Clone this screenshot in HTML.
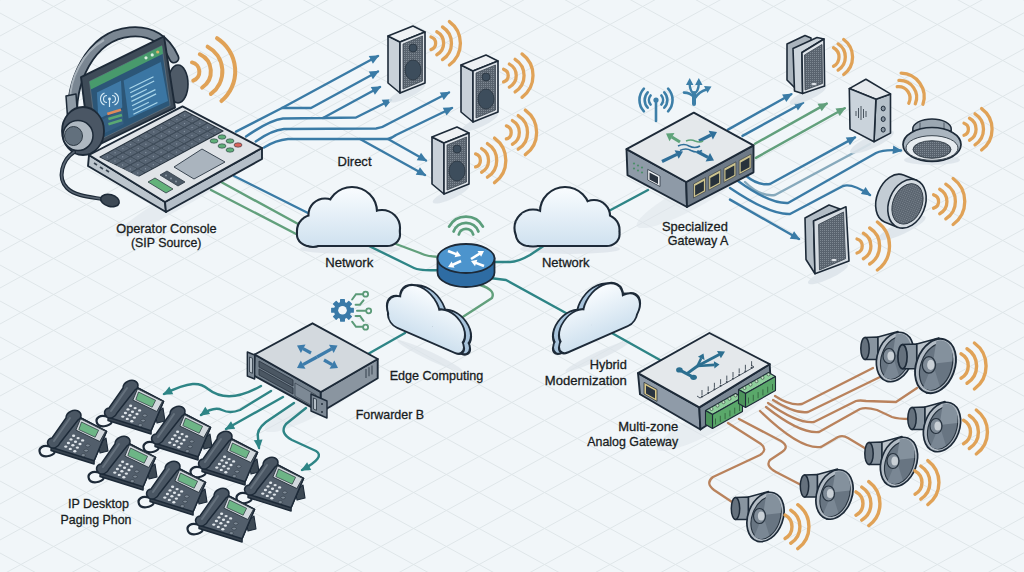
<!DOCTYPE html><html><head><meta charset="utf-8"><style>html,body{margin:0;padding:0;background:#f1f6f9;overflow:hidden}svg{display:block}text{font-family:"Liberation Sans",sans-serif;fill:#181c21;stroke:#181c21;stroke-width:0.3px}</style></head><body>
<svg width="1024" height="572" viewBox="0 0 1024 572">
<defs>
<marker id="ah_3a7ba6" viewBox="0 0 10 10" refX="8.5" refY="5" markerWidth="4.4" markerHeight="4.0" orient="auto"><path d="M0,0.5 L10,5 L0,9.5 z" fill="#3a7ba6"/></marker>
<marker id="ah_62a07c" viewBox="0 0 10 10" refX="8.5" refY="5" markerWidth="4.4" markerHeight="4.0" orient="auto"><path d="M0,0.5 L10,5 L0,9.5 z" fill="#62a07c"/></marker>
<marker id="ah_2e8586" viewBox="0 0 10 10" refX="8.5" refY="5" markerWidth="4.4" markerHeight="4.0" orient="auto"><path d="M0,0.5 L10,5 L0,9.5 z" fill="#2e8586"/></marker>
<pattern id="grille" width="2" height="2" patternUnits="userSpaceOnUse"><rect width="2" height="2" fill="#59636e"/><rect width="1" height="1" fill="#7e8892"/></pattern>
<g id="spk"><polygon points="0.0,11.0 12.0,17.0 12.0,68.0 0.0,58.0" fill="#c9d1d9" stroke="#1d2a38" stroke-width="1.6" stroke-linejoin="round" /><polygon points="0.0,11.0 25.0,1.0 37.0,7.0 12.0,17.0" fill="#eef1f4" stroke="#1d2a38" stroke-width="1.6" stroke-linejoin="round" /><polygon points="12.0,17.0 37.0,7.0 37.0,58.0 12.0,68.0" fill="#dfe4e9" stroke="#1d2a38" stroke-width="1.6" stroke-linejoin="round" /><polygon points="15.0,19.0 34.5,11.0 34.5,56.0 15.0,64.0" fill="url(#grille)" stroke="#3a4550" stroke-width="0.8" stroke-linejoin="round" /><circle cx="25" cy="23" r="4" fill="#3d4d5c" stroke="#2a3540" stroke-width="0.8"/><ellipse cx="25" cy="45" rx="8" ry="10" fill="#3d4d5c" stroke="#2a3540" stroke-width="0.8"/></g>
<g id="phone"><polygon points="59.0,34.0 67.0,28.0 69.0,41.0 61.0,43.0" fill="#3c4853" stroke="#1d2a38" stroke-width="1.1" stroke-linejoin="round" /><polygon points="12.0,37.2 39.2,6.5 67.6,21.3 55.1,50.8 55.1,54.0 12.0,40.5" fill="#38434f" stroke="#1d2a38" stroke-width="1.4" stroke-linejoin="round" /><polygon points="12.0,37.2 39.2,6.5 67.6,21.3 55.1,50.8" fill="#525e6b" stroke="#1d2a38" stroke-width="1.5" stroke-linejoin="round" /><polygon points="41.5,8.8 66.5,21.3 60.8,31.5 36.9,20.1" fill="#d3d9de" stroke="#26313b" stroke-width="0.9" stroke-linejoin="round" /><polygon points="42.5,12.0 59.6,20.3 56.2,27.2 39.8,19.6" fill="#6db586" stroke="#26313b" stroke-width="0.7" stroke-linejoin="round" /><ellipse cx="34.6" cy="25.8" rx="1.6" ry="1.2" fill="#dfe5ea"/><ellipse cx="39.1" cy="28.1" rx="1.6" ry="1.2" fill="#dfe5ea"/><ellipse cx="43.6" cy="30.4" rx="1.6" ry="1.2" fill="#dfe5ea"/><ellipse cx="32.0" cy="29.4" rx="1.6" ry="1.2" fill="#dfe5ea"/><ellipse cx="36.5" cy="31.7" rx="1.6" ry="1.2" fill="#dfe5ea"/><ellipse cx="41.0" cy="34.0" rx="1.6" ry="1.2" fill="#dfe5ea"/><ellipse cx="29.4" cy="33.0" rx="1.6" ry="1.2" fill="#dfe5ea"/><ellipse cx="33.9" cy="35.3" rx="1.6" ry="1.2" fill="#dfe5ea"/><ellipse cx="38.4" cy="37.6" rx="1.6" ry="1.2" fill="#dfe5ea"/><ellipse cx="26.8" cy="36.6" rx="1.6" ry="1.2" fill="#dfe5ea"/><ellipse cx="31.3" cy="38.9" rx="1.6" ry="1.2" fill="#dfe5ea"/><ellipse cx="35.8" cy="41.2" rx="1.6" ry="1.2" fill="#dfe5ea"/><ellipse cx="48.8" cy="35.5" rx="2.2" ry="1.4" fill="#7f8b97" stroke="#26313b" stroke-width="0.5"/><ellipse cx="47.1" cy="40.6" rx="2.2" ry="1.4" fill="#7f8b97" stroke="#26313b" stroke-width="0.5"/><ellipse cx="44.3" cy="45.1" rx="2.2" ry="1.4" fill="#7f8b97" stroke="#26313b" stroke-width="0.5"/><path d="M12,37 C4,34 -1,38 1,43 C3,48 13,47 16,42" fill="none" stroke="#1d2a38" stroke-width="2.2"/><path d="M11,37 C7,34 8,29 13,28 L27,8 C27,2 35,-1 39,1 C43,3 43,8 39,10 L21,33 C19,38 14,39 11,37 z" fill="#4a5663" stroke="#1d2a38" stroke-width="1.5" stroke-linejoin="round"/><path d="M15,31 L31,8" stroke="#65717d" stroke-width="2" stroke-linecap="round"/></g>
<g id="horn"><path d="M-30,-19.5 L-17,-20 L-17,2.5 L-30,2.5 z" fill="#8995a0" stroke="#1d2a38" stroke-width="1.5" stroke-linejoin="round"/><ellipse cx="-30" cy="-8.5" rx="4.2" ry="11" fill="#65717d" stroke="#1d2a38" stroke-width="1.5"/><path d="M-17,-20 L3,-25.5 L6,20 L-8,24.5 L-17,2.5 z" fill="#bcc4cb" stroke="#1d2a38" stroke-width="1.5" stroke-linejoin="round"/><ellipse cx="0" cy="0" rx="17.5" ry="25.5" transform="rotate(20)" fill="#b3bcc5" stroke="#1d2a38" stroke-width="1.7"/><ellipse cx="0.8" cy="0.6" rx="14" ry="21.8" transform="rotate(20)" fill="#687582" stroke="#26323e" stroke-width="1.1"/><path d="M-3,-1 L-7,-21.5 A14,21.8 0 0 1 13,-9 z" fill="#84919d" transform="rotate(20)"/><path d="M-3,-1 L10,16 A14,21.8 0 0 1 -4,22 z" fill="#7a8794" transform="rotate(20)"/><ellipse cx="-6" cy="-1" rx="6" ry="7.5" fill="#7e8a96" stroke="#26323e" stroke-width="1.2"/><ellipse cx="-4.3" cy="-1" rx="3.3" ry="4.6" fill="#c9d0d6"/></g>
</defs>
<rect width="1024" height="572" fill="#f1f6f9"/>
<g stroke="#dfe6e9" stroke-width="1" fill="none"><line x1="0" y1="-1247" x2="1024" y2="-683.8"/><line x1="0" y1="-1188" x2="1024" y2="-1751.2"/><line x1="0" y1="-1211" x2="1024" y2="-647.8"/><line x1="0" y1="-1152" x2="1024" y2="-1715.2"/><line x1="0" y1="-1175" x2="1024" y2="-611.8"/><line x1="0" y1="-1116" x2="1024" y2="-1679.2"/><line x1="0" y1="-1139" x2="1024" y2="-575.8"/><line x1="0" y1="-1080" x2="1024" y2="-1643.2"/><line x1="0" y1="-1103" x2="1024" y2="-539.8"/><line x1="0" y1="-1044" x2="1024" y2="-1607.2"/><line x1="0" y1="-1067" x2="1024" y2="-503.8"/><line x1="0" y1="-1008" x2="1024" y2="-1571.2"/><line x1="0" y1="-1031" x2="1024" y2="-467.8"/><line x1="0" y1="-972" x2="1024" y2="-1535.2"/><line x1="0" y1="-995" x2="1024" y2="-431.8"/><line x1="0" y1="-936" x2="1024" y2="-1499.2"/><line x1="0" y1="-959" x2="1024" y2="-395.8"/><line x1="0" y1="-900" x2="1024" y2="-1463.2"/><line x1="0" y1="-923" x2="1024" y2="-359.8"/><line x1="0" y1="-864" x2="1024" y2="-1427.2"/><line x1="0" y1="-887" x2="1024" y2="-323.8"/><line x1="0" y1="-828" x2="1024" y2="-1391.2"/><line x1="0" y1="-851" x2="1024" y2="-287.8"/><line x1="0" y1="-792" x2="1024" y2="-1355.2"/><line x1="0" y1="-815" x2="1024" y2="-251.8"/><line x1="0" y1="-756" x2="1024" y2="-1319.2"/><line x1="0" y1="-779" x2="1024" y2="-215.8"/><line x1="0" y1="-720" x2="1024" y2="-1283.2"/><line x1="0" y1="-743" x2="1024" y2="-179.8"/><line x1="0" y1="-684" x2="1024" y2="-1247.2"/><line x1="0" y1="-707" x2="1024" y2="-143.8"/><line x1="0" y1="-648" x2="1024" y2="-1211.2"/><line x1="0" y1="-671" x2="1024" y2="-107.8"/><line x1="0" y1="-612" x2="1024" y2="-1175.2"/><line x1="0" y1="-635" x2="1024" y2="-71.8"/><line x1="0" y1="-576" x2="1024" y2="-1139.2"/><line x1="0" y1="-599" x2="1024" y2="-35.8"/><line x1="0" y1="-540" x2="1024" y2="-1103.2"/><line x1="0" y1="-563" x2="1024" y2="0.2"/><line x1="0" y1="-504" x2="1024" y2="-1067.2"/><line x1="0" y1="-527" x2="1024" y2="36.2"/><line x1="0" y1="-468" x2="1024" y2="-1031.2"/><line x1="0" y1="-491" x2="1024" y2="72.2"/><line x1="0" y1="-432" x2="1024" y2="-995.2"/><line x1="0" y1="-455" x2="1024" y2="108.2"/><line x1="0" y1="-396" x2="1024" y2="-959.2"/><line x1="0" y1="-419" x2="1024" y2="144.2"/><line x1="0" y1="-360" x2="1024" y2="-923.2"/><line x1="0" y1="-383" x2="1024" y2="180.2"/><line x1="0" y1="-324" x2="1024" y2="-887.2"/><line x1="0" y1="-347" x2="1024" y2="216.2"/><line x1="0" y1="-288" x2="1024" y2="-851.2"/><line x1="0" y1="-311" x2="1024" y2="252.2"/><line x1="0" y1="-252" x2="1024" y2="-815.2"/><line x1="0" y1="-275" x2="1024" y2="288.2"/><line x1="0" y1="-216" x2="1024" y2="-779.2"/><line x1="0" y1="-239" x2="1024" y2="324.2"/><line x1="0" y1="-180" x2="1024" y2="-743.2"/><line x1="0" y1="-203" x2="1024" y2="360.2"/><line x1="0" y1="-144" x2="1024" y2="-707.2"/><line x1="0" y1="-167" x2="1024" y2="396.2"/><line x1="0" y1="-108" x2="1024" y2="-671.2"/><line x1="0" y1="-131" x2="1024" y2="432.2"/><line x1="0" y1="-72" x2="1024" y2="-635.2"/><line x1="0" y1="-95" x2="1024" y2="468.2"/><line x1="0" y1="-36" x2="1024" y2="-599.2"/><line x1="0" y1="-59" x2="1024" y2="504.2"/><line x1="0" y1="0" x2="1024" y2="-563.2"/><line x1="0" y1="-23" x2="1024" y2="540.2"/><line x1="0" y1="36" x2="1024" y2="-527.2"/><line x1="0" y1="13" x2="1024" y2="576.2"/><line x1="0" y1="72" x2="1024" y2="-491.2"/><line x1="0" y1="49" x2="1024" y2="612.2"/><line x1="0" y1="108" x2="1024" y2="-455.2"/><line x1="0" y1="85" x2="1024" y2="648.2"/><line x1="0" y1="144" x2="1024" y2="-419.2"/><line x1="0" y1="121" x2="1024" y2="684.2"/><line x1="0" y1="180" x2="1024" y2="-383.2"/><line x1="0" y1="157" x2="1024" y2="720.2"/><line x1="0" y1="216" x2="1024" y2="-347.2"/><line x1="0" y1="193" x2="1024" y2="756.2"/><line x1="0" y1="252" x2="1024" y2="-311.2"/><line x1="0" y1="229" x2="1024" y2="792.2"/><line x1="0" y1="288" x2="1024" y2="-275.2"/><line x1="0" y1="265" x2="1024" y2="828.2"/><line x1="0" y1="324" x2="1024" y2="-239.2"/><line x1="0" y1="301" x2="1024" y2="864.2"/><line x1="0" y1="360" x2="1024" y2="-203.2"/><line x1="0" y1="337" x2="1024" y2="900.2"/><line x1="0" y1="396" x2="1024" y2="-167.2"/><line x1="0" y1="373" x2="1024" y2="936.2"/><line x1="0" y1="432" x2="1024" y2="-131.2"/><line x1="0" y1="409" x2="1024" y2="972.2"/><line x1="0" y1="468" x2="1024" y2="-95.2"/><line x1="0" y1="445" x2="1024" y2="1008.2"/><line x1="0" y1="504" x2="1024" y2="-59.2"/><line x1="0" y1="481" x2="1024" y2="1044.2"/><line x1="0" y1="540" x2="1024" y2="-23.2"/><line x1="0" y1="517" x2="1024" y2="1080.2"/><line x1="0" y1="576" x2="1024" y2="12.8"/><line x1="0" y1="553" x2="1024" y2="1116.2"/><line x1="0" y1="612" x2="1024" y2="48.8"/><line x1="0" y1="589" x2="1024" y2="1152.2"/><line x1="0" y1="648" x2="1024" y2="84.8"/><line x1="0" y1="625" x2="1024" y2="1188.2"/><line x1="0" y1="684" x2="1024" y2="120.8"/><line x1="0" y1="661" x2="1024" y2="1224.2"/><line x1="0" y1="720" x2="1024" y2="156.8"/><line x1="0" y1="697" x2="1024" y2="1260.2"/><line x1="0" y1="756" x2="1024" y2="192.8"/><line x1="0" y1="733" x2="1024" y2="1296.2"/><line x1="0" y1="792" x2="1024" y2="228.8"/><line x1="0" y1="769" x2="1024" y2="1332.2"/><line x1="0" y1="828" x2="1024" y2="264.8"/><line x1="0" y1="805" x2="1024" y2="1368.2"/><line x1="0" y1="864" x2="1024" y2="300.8"/><line x1="0" y1="841" x2="1024" y2="1404.2"/><line x1="0" y1="900" x2="1024" y2="336.8"/><line x1="0" y1="877" x2="1024" y2="1440.2"/><line x1="0" y1="936" x2="1024" y2="372.8"/><line x1="0" y1="913" x2="1024" y2="1476.2"/><line x1="0" y1="972" x2="1024" y2="408.8"/><line x1="0" y1="949" x2="1024" y2="1512.2"/><line x1="0" y1="1008" x2="1024" y2="444.8"/><line x1="0" y1="985" x2="1024" y2="1548.2"/><line x1="0" y1="1044" x2="1024" y2="480.8"/><line x1="0" y1="1021" x2="1024" y2="1584.2"/><line x1="0" y1="1080" x2="1024" y2="516.8"/><line x1="0" y1="1057" x2="1024" y2="1620.2"/><line x1="0" y1="1116" x2="1024" y2="552.8"/><line x1="0" y1="1093" x2="1024" y2="1656.2"/><line x1="0" y1="1152" x2="1024" y2="588.8"/><line x1="0" y1="1129" x2="1024" y2="1692.2"/><line x1="0" y1="1188" x2="1024" y2="624.8"/><line x1="0" y1="1165" x2="1024" y2="1728.2"/><line x1="0" y1="1224" x2="1024" y2="660.8"/><line x1="0" y1="1201" x2="1024" y2="1764.2"/><line x1="0" y1="1260" x2="1024" y2="696.8"/><line x1="0" y1="1237" x2="1024" y2="1800.2"/><line x1="0" y1="1296" x2="1024" y2="732.8"/><line x1="0" y1="1273" x2="1024" y2="1836.2"/><line x1="0" y1="1332" x2="1024" y2="768.8"/><line x1="0" y1="1309" x2="1024" y2="1872.2"/><line x1="0" y1="1368" x2="1024" y2="804.8"/><line x1="0" y1="1345" x2="1024" y2="1908.2"/><line x1="0" y1="1404" x2="1024" y2="840.8"/><line x1="0" y1="1381" x2="1024" y2="1944.2"/><line x1="0" y1="1440" x2="1024" y2="876.8"/><line x1="0" y1="1417" x2="1024" y2="1980.2"/><line x1="0" y1="1476" x2="1024" y2="912.8"/><line x1="0" y1="1453" x2="1024" y2="2016.2"/><line x1="0" y1="1512" x2="1024" y2="948.8"/><line x1="0" y1="1489" x2="1024" y2="2052.2"/><line x1="0" y1="1548" x2="1024" y2="984.8"/><line x1="0" y1="1525" x2="1024" y2="2088.2"/><line x1="0" y1="1584" x2="1024" y2="1020.8"/><line x1="0" y1="1561" x2="1024" y2="2124.2"/><line x1="0" y1="1620" x2="1024" y2="1056.8"/><line x1="0" y1="1597" x2="1024" y2="2160.2"/><line x1="0" y1="1656" x2="1024" y2="1092.8"/><line x1="0" y1="1633" x2="1024" y2="2196.2"/><line x1="0" y1="1692" x2="1024" y2="1128.8"/><line x1="0" y1="1669" x2="1024" y2="2232.2"/><line x1="0" y1="1728" x2="1024" y2="1164.8"/><line x1="0" y1="1705" x2="1024" y2="2268.2"/><line x1="0" y1="1764" x2="1024" y2="1200.8"/><line x1="0" y1="1741" x2="1024" y2="2304.2"/><line x1="0" y1="1800" x2="1024" y2="1236.8"/><line x1="0" y1="1777" x2="1024" y2="2340.2"/><line x1="0" y1="1836" x2="1024" y2="1272.8"/></g>
<ellipse cx="185" cy="196" rx="80" ry="9" transform="rotate(-30 185 196)" fill="#dde4ea" opacity="0.6"/>
<ellipse cx="690" cy="198" rx="60" ry="12" transform="rotate(-28 690 198)" fill="#dde4ea" opacity="0.5"/>
<ellipse cx="318" cy="402" rx="60" ry="12" transform="rotate(-28 318 402)" fill="#dde4ea" opacity="0.5"/>
<ellipse cx="712" cy="420" rx="62" ry="12" transform="rotate(-28 712 420)" fill="#dde4ea" opacity="0.5"/>
<ellipse cx="350" cy="249" rx="50" ry="5" transform="rotate(0 350 249)" fill="#dde4ea" opacity="0.8"/>
<ellipse cx="570" cy="249" rx="50" ry="5" transform="rotate(0 570 249)" fill="#dde4ea" opacity="0.8"/>
<ellipse cx="430" cy="356" rx="36" ry="4" transform="rotate(25 430 356)" fill="#dde4ea" opacity="0.7"/>
<ellipse cx="598" cy="356" rx="36" ry="4" transform="rotate(-25 598 356)" fill="#dde4ea" opacity="0.7"/>
<path d="M236,131.6 L282,108 L378,56" fill="none" stroke="#3a7ba6" stroke-width="2.4" stroke-linecap="round" stroke-linejoin="round" marker-end="url(#ah_3a7ba6)"/><path d="M282,108 L311,108 L378,71.5" fill="none" stroke="#3a7ba6" stroke-width="2.4" stroke-linecap="round" stroke-linejoin="round" marker-end="url(#ah_3a7ba6)"/><path d="M246,136.5 Q270,120 283,118.5 L323,118 L380,87" fill="none" stroke="#3a7ba6" stroke-width="2.4" stroke-linecap="round" stroke-linejoin="round" marker-end="url(#ah_3a7ba6)"/><path d="M323,118 L356,117.5 L391,100" fill="none" stroke="#3a7ba6" stroke-width="2.4" stroke-linecap="round" stroke-linejoin="round" marker-end="url(#ah_3a7ba6)"/><path d="M255.7,141.4 Q272,130 284,129 L376,128.5 Q382,128 388,124 L449,92.5" fill="none" stroke="#3a7ba6" stroke-width="2.4" stroke-linecap="round" stroke-linejoin="round" marker-end="url(#ah_3a7ba6)"/><path d="M264,147.5 Q276,140 288,139 L388,139 Q392,138 396,135 L452,108" fill="none" stroke="#3a7ba6" stroke-width="2.4" stroke-linecap="round" stroke-linejoin="round" marker-end="url(#ah_3a7ba6)"/><path d="M360,139 L425,175" fill="none" stroke="#3a7ba6" stroke-width="2.4" stroke-linecap="round" stroke-linejoin="round" marker-end="url(#ah_3a7ba6)"/><path d="M388,139 L426,160.5" fill="none" stroke="#3a7ba6" stroke-width="2.4" stroke-linecap="round" stroke-linejoin="round" marker-end="url(#ah_3a7ba6)"/><path d="M234,176 L310,214" fill="none" stroke="#3a7ba6" stroke-width="2.4" stroke-linecap="round" stroke-linejoin="round"/><path d="M222,182.5 L300,225" fill="none" stroke="#62a07c" stroke-width="2.4" stroke-linecap="round" stroke-linejoin="round"/><path d="M211,190 L300,236" fill="none" stroke="#62a07c" stroke-width="2.4" stroke-linecap="round" stroke-linejoin="round"/><path d="M380,238 L420,253 Q428,257 440,257" fill="none" stroke="#62a07c" stroke-width="2.4" stroke-linecap="round" stroke-linejoin="round"/><path d="M365,244 L414,268 Q420,271 440,270" fill="none" stroke="#2e8586" stroke-width="2.4" stroke-linecap="round" stroke-linejoin="round"/><path d="M492,262 L510,262 Q518,262 530,255 L545,245" fill="none" stroke="#2e8586" stroke-width="2.4" stroke-linecap="round" stroke-linejoin="round"/><path d="M605,213 L648,190" fill="none" stroke="#2e8586" stroke-width="2.4" stroke-linecap="round" stroke-linejoin="round"/><path d="M490,278 L506,280 L575,318" fill="none" stroke="#2e8586" stroke-width="2.4" stroke-linecap="round" stroke-linejoin="round"/><path d="M610,332 L660,360" fill="none" stroke="#2e8586" stroke-width="2.4" stroke-linecap="round" stroke-linejoin="round"/><path d="M480,285 Q496,290 492,298 L455,322" fill="none" stroke="#62a07c" stroke-width="2.4" stroke-linecap="round" stroke-linejoin="round"/><path d="M405,333 L368,354" fill="none" stroke="#2e8586" stroke-width="2.4" stroke-linecap="round" stroke-linejoin="round"/><path d="M728,129.6 L791.3,94.2" fill="none" stroke="#3a7ba6" stroke-width="2.4" stroke-linecap="round" stroke-linejoin="round" marker-end="url(#ah_3a7ba6)"/><path d="M742.5,135.9 L803,102.8" fill="none" stroke="#3a7ba6" stroke-width="2.4" stroke-linecap="round" stroke-linejoin="round" marker-end="url(#ah_3a7ba6)"/><path d="M755,143.7 L826.7,103.6" fill="none" stroke="#62a07c" stroke-width="2.4" stroke-linecap="round" stroke-linejoin="round" marker-end="url(#ah_62a07c)"/><path d="M755.9,157.9 L844.7,108.3" fill="none" stroke="#62a07c" stroke-width="2.4" stroke-linecap="round" stroke-linejoin="round" marker-end="url(#ah_62a07c)"/><path d="M745,175 Q758,186 770,184 L855,137.4" fill="none" stroke="#3a7ba6" stroke-width="2.4" stroke-linecap="round" stroke-linejoin="round" marker-end="url(#ah_3a7ba6)"/><path d="M745,182 Q760,197 775,195 L870,144" fill="none" stroke="#86a9bc" stroke-width="2.4" stroke-linecap="round" stroke-linejoin="round"/><path d="M738,181 Q770,204 788,203 L876,153 Q884,149 901,150.5" fill="none" stroke="#3a7ba6" stroke-width="2.4" stroke-linecap="round" stroke-linejoin="round" marker-end="url(#ah_3a7ba6)"/><path d="M730,188 Q770,215 790,214 L843,186 Q852,183 870,195" fill="none" stroke="#3a7ba6" stroke-width="2.4" stroke-linecap="round" stroke-linejoin="round" marker-end="url(#ah_3a7ba6)"/><path d="M730,199.6 L799,239" fill="none" stroke="#3a7ba6" stroke-width="2.4" stroke-linecap="round" stroke-linejoin="round" marker-end="url(#ah_3a7ba6)"/><path d="M261,386 C240,398 222,400 208,389 C200,382 190,381 164,394" fill="none" stroke="#2e8586" stroke-width="2.4" stroke-linecap="round" stroke-linejoin="round" marker-end="url(#ah_2e8586)"/><path d="M271,391 L240,410 Q230,414 222,410 Q214,406 201,415" fill="none" stroke="#2e8586" stroke-width="2.4" stroke-linecap="round" stroke-linejoin="round" marker-end="url(#ah_2e8586)"/><path d="M283,397 L226,429" fill="none" stroke="#2e8586" stroke-width="2.4" stroke-linecap="round" stroke-linejoin="round" marker-end="url(#ah_2e8586)"/><path d="M294,403 L266,422 Q256,430 258,438 L259,448" fill="none" stroke="#2e8586" stroke-width="2.4" stroke-linecap="round" stroke-linejoin="round" marker-end="url(#ah_2e8586)"/><path d="M306,408 L286,424 Q279,433 292,440 L316,451 Q326,457 302,470" fill="none" stroke="#2e8586" stroke-width="2.4" stroke-linecap="round" stroke-linejoin="round" marker-end="url(#ah_2e8586)"/><path d="M775,396 Q790,406 802,404 L873,368" fill="none" stroke="#b9825c" stroke-width="2.3" stroke-linecap="round" stroke-linejoin="round"/><path d="M773,400 Q795,414 808,412 L880,377" fill="none" stroke="#b9825c" stroke-width="2.3" stroke-linecap="round" stroke-linejoin="round"/><path d="M768,403 Q798,424 814,422 L856,401 Q860,400 866,401 L896,402 L917,388" fill="none" stroke="#b9825c" stroke-width="2.3" stroke-linecap="round" stroke-linejoin="round"/><path d="M766,407 Q800,434 819,432 L860,409 Q866,407 877,410 L892,417 Q898,419 910,419" fill="none" stroke="#b9825c" stroke-width="2.3" stroke-linecap="round" stroke-linejoin="round"/><path d="M760,411 Q800,450 821,447 L838,437 Q843,435 848,438 L868,450" fill="none" stroke="#b9825c" stroke-width="2.3" stroke-linecap="round" stroke-linejoin="round"/><path d="M739,419 L781,441 Q790,447 782,452 L770,460 Q765,466 776,472 L805,487" fill="none" stroke="#b9825c" stroke-width="2.3" stroke-linecap="round" stroke-linejoin="round"/><path d="M728,423 L761,444 Q768,450 760,455 L713,477 Q705,483 714,490 L738,506" fill="none" stroke="#b9825c" stroke-width="2.3" stroke-linecap="round" stroke-linejoin="round"/>
<linearGradient id="cg1" gradientUnits="userSpaceOnUse" x1="0" y1="190" x2="0" y2="246"><stop offset="0" stop-color="#f7fbfe"/><stop offset="1" stop-color="#cfe1ef"/></linearGradient><g transform=""><g fill="url(#cg1)" stroke="#1d2a38" stroke-width="4.2"><circle cx="313" cy="231" r="15"/><circle cx="325" cy="215" r="15.5"/><circle cx="352" cy="212" r="24"/><circle cx="382" cy="228" r="17"/><rect x="298" y="224" width="101" height="21" rx="12"/></g><g fill="url(#cg1)"><circle cx="313" cy="231" r="15"/><circle cx="325" cy="215" r="15.5"/><circle cx="352" cy="212" r="24"/><circle cx="382" cy="228" r="17"/><rect x="298" y="224" width="101" height="21" rx="12"/></g></g>
<linearGradient id="cg2" gradientUnits="userSpaceOnUse" x1="0" y1="190" x2="0" y2="246"><stop offset="0" stop-color="#f7fbfe"/><stop offset="1" stop-color="#cfe1ef"/></linearGradient><g transform=""><g fill="url(#cg2)" stroke="#1d2a38" stroke-width="4.2"><circle cx="533" cy="228" r="17.5"/><circle cx="565" cy="212" r="24"/><circle cx="594" cy="216" r="15"/><circle cx="604" cy="230" r="14.5"/><rect x="517" y="224" width="101.5" height="21" rx="12"/></g><g fill="url(#cg2)"><circle cx="533" cy="228" r="17.5"/><circle cx="565" cy="212" r="24"/><circle cx="594" cy="216" r="15"/><circle cx="604" cy="230" r="14.5"/><rect x="517" y="224" width="101.5" height="21" rx="12"/></g></g>
<linearGradient id="cg3" gradientUnits="userSpaceOnUse" x1="0" y1="-48" x2="0" y2="0"><stop offset="0" stop-color="#f7fbfe"/><stop offset="1" stop-color="#cfe1ef"/></linearGradient><g transform="matrix(1,0.435,0,1,393,325)"><g transform="translate(6,-2)"><g fill="#a8c4dc" stroke="#1d2a38" stroke-width="4.2"><circle cx="10" cy="-16" r="15"/><circle cx="27" cy="-30" r="19"/><circle cx="55" cy="-21" r="16"/><rect x="-4" y="-16" width="74" height="16" rx="8"/></g><g fill="#a8c4dc"><circle cx="10" cy="-16" r="15"/><circle cx="27" cy="-30" r="19"/><circle cx="55" cy="-21" r="16"/><rect x="-4" y="-16" width="74" height="16" rx="8"/></g></g><g fill="url(#cg3)" stroke="#1d2a38" stroke-width="4.2"><circle cx="10" cy="-16" r="15"/><circle cx="27" cy="-30" r="19"/><circle cx="55" cy="-21" r="16"/><rect x="-4" y="-16" width="74" height="16" rx="8"/></g><g fill="url(#cg3)"><circle cx="10" cy="-16" r="15"/><circle cx="27" cy="-30" r="19"/><circle cx="55" cy="-21" r="16"/><rect x="-4" y="-16" width="74" height="16" rx="8"/></g></g>
<linearGradient id="cg4" gradientUnits="userSpaceOnUse" x1="0" y1="-48" x2="0" y2="0"><stop offset="0" stop-color="#f7fbfe"/><stop offset="1" stop-color="#cfe1ef"/></linearGradient><g transform="matrix(1,-0.44,0,1,562,354)"><g transform="translate(-6,-2)"><g fill="#a8c4dc" stroke="#1d2a38" stroke-width="4.2"><circle cx="14" cy="-20" r="16"/><circle cx="41" cy="-31" r="19"/><circle cx="62" cy="-16" r="15"/><rect x="-2" y="-16" width="76" height="16" rx="8"/></g><g fill="#a8c4dc"><circle cx="14" cy="-20" r="16"/><circle cx="41" cy="-31" r="19"/><circle cx="62" cy="-16" r="15"/><rect x="-2" y="-16" width="76" height="16" rx="8"/></g></g><g fill="url(#cg4)" stroke="#1d2a38" stroke-width="4.2"><circle cx="14" cy="-20" r="16"/><circle cx="41" cy="-31" r="19"/><circle cx="62" cy="-16" r="15"/><rect x="-2" y="-16" width="76" height="16" rx="8"/></g><g fill="url(#cg4)"><circle cx="14" cy="-20" r="16"/><circle cx="41" cy="-31" r="19"/><circle cx="62" cy="-16" r="15"/><rect x="-2" y="-16" width="76" height="16" rx="8"/></g></g>
<path d="M437.5,258.5 L437.5,272.5 A28.5,14.5 0 0 0 494.5,272.5 L494.5,258.5 z" fill="#2e6ca3" stroke="#1d2a38" stroke-width="1.8"/><ellipse cx="466" cy="258.5" rx="28.5" ry="14.5" fill="#4c94cd" stroke="#1d2a38" stroke-width="1.8"/><path d="M448,251 L458.2,254.9" stroke="#fff" stroke-width="2.6"/><polygon points="461,256 454.6,257.2 457.0,250.8" fill="#fff"/><path d="M471,259 L481.4,252.6" stroke="#fff" stroke-width="2.6"/><polygon points="484,251 481.1,256.8 477.5,251.0" fill="#fff"/><path d="M461,261 L450.7,265.7" stroke="#fff" stroke-width="2.6"/><polygon points="448,267 451.6,261.6 454.5,267.8" fill="#fff"/><path d="M484,266 L473.8,262.1" stroke="#fff" stroke-width="2.6"/><polygon points="471,261 477.4,259.8 475.0,266.2" fill="#fff"/>
<g fill="none" stroke="#5b9e7c" stroke-width="2.8" stroke-linecap="round"><path d="M458.8,234.5 A7.4,7.4 0 0 1 473.2,234.5"/><path d="M453.6,231.5 A13.2,13.2 0 0 1 478.4,231.5"/><path d="M449.1,226.6 A19.3,19.3 0 0 1 482.9,226.6"/></g>
<path d="M73,124 C69,82 90,36 130,32 C151,30 166,40 174,58" fill="none" stroke="#1d2a38" stroke-width="11" stroke-linecap="round"/><path d="M73,124 C69,82 90,36 130,32 C151,30 166,40 174,58" fill="none" stroke="#7a8692" stroke-width="7.5" stroke-linecap="round"/><path d="M70,100 C70,80 82,52 104,40" fill="none" stroke="#a7b1ba" stroke-width="2"/><polygon points="66.0,96.0 76.0,94.0 78.0,122.0 68.0,124.0" fill="#8e9aa5" stroke="#1d2a38" stroke-width="1.5" stroke-linejoin="round" /><ellipse cx="178" cy="84" rx="10" ry="19" fill="#4e5a67" stroke="#1d2a38" stroke-width="1.6"/><polygon points="81.0,77.2 164.0,36.3 175.0,107.6 90.0,149.0" fill="#3e4b58" stroke="#1d2a38" stroke-width="1.9" stroke-linejoin="round" /><polygon points="89.5,81.4 161.9,45.7 170.2,105.5 96.9,141.1" fill="#2c5677" stroke="#5b6c7b" stroke-width="0.9" stroke-linejoin="round" /><polygon points="89.5,81.4 161.9,45.7 163.0,53.8 90.8,89.6" fill="#489a6c" stroke="none" stroke-width="0" stroke-linejoin="round" /><circle cx="146" cy="57.8" r="1.6" fill="#dcefe2"/><circle cx="152.2" cy="54.9" r="1.6" fill="#dcefe2"/><circle cx="157.7" cy="52" r="1.6" fill="#d9b46a"/><polygon points="96.9,92.5 121.0,80.8 122.3,107.5 98.4,119.0" fill="#3f79a6" stroke="none" stroke-width="0" stroke-linejoin="round" /><polygon points="98.6,121.5 122.5,109.8 123.6,124.0 99.6,135.5" fill="#355f82" stroke="none" stroke-width="0" stroke-linejoin="round" /><polygon points="123.6,80.5 160.8,62.0 168.0,101.0 128.6,118.5" fill="#3b76a3" stroke="none" stroke-width="0" stroke-linejoin="round" /><path d="M129.5,88.5 L153.5,76.7" stroke="#a9d6ea" stroke-width="1.2"/><path d="M130.2,92.8 L154.2,81.0" stroke="#a9d6ea" stroke-width="1.2"/><path d="M130.8,97.1 L146.8,89.3" stroke="#a9d6ea" stroke-width="1.2"/><path d="M131.4,101.4 L155.4,89.6" stroke="#a9d6ea" stroke-width="1.2"/><path d="M132.1,105.7 L156.1,93.9" stroke="#a9d6ea" stroke-width="1.2"/><path d="M132.8,110.0 L148.8,102.2" stroke="#a9d6ea" stroke-width="1.2"/><path d="M133.4,114.3 L157.4,102.5" stroke="#a9d6ea" stroke-width="1.2"/><path d="M107.3,113.9 L121,109.7" stroke-width="2.6" stroke="#e08a5a"/><path d="M108.4,119.1 L122,114.9 M108.4,124.3 L122,120.1" stroke-width="2.6" stroke="#5aa873"/><g fill="none" stroke="#d5eaf5" stroke-width="1.1"><path d="M107,95.5 a3.5,3.5 0 0 0 0,7"/><path d="M112,95.5 a3.5,3.5 0 0 1 0,7"/><path d="M104.5,93 a6.5,6.5 0 0 0 0,12"/><path d="M114.5,93 a6.5,6.5 0 0 1 0,12"/></g><circle cx="109.5" cy="99" r="1.4" fill="#d5eaf5"/><path d="M109.5,99 L109.5,107" stroke="#d5eaf5" stroke-width="1.2"/><polygon points="89.0,155.0 165.0,202.0 166.0,212.0 88.0,166.0" fill="#bcc5cd" stroke="#1d2a38" stroke-width="1.9" stroke-linejoin="round" /><polygon points="165.0,202.0 262.0,148.0 262.0,159.0 166.0,212.0" fill="#b4bec8" stroke="#1d2a38" stroke-width="1.9" stroke-linejoin="round" /><polygon points="89.0,155.0 182.5,106.4 262.0,148.0 165.0,202.0" fill="#e0e4e8" stroke="#1d2a38" stroke-width="1.9" stroke-linejoin="round" /><path d="M94,163 l3,2 M100,167 l3,2 M106,170 l3,2" stroke="#3a4652" stroke-width="1.6"/><polygon points="100.0,157.0 185.0,111.0 223.0,131.0 139.0,176.0" fill="#3f4c5a" stroke="#2a3642" stroke-width="1.2" stroke-linejoin="round" /><polygon points="101.6,157.2 107.8,153.9 113.2,156.7 107.0,160.0" fill="#566372" stroke="#6f7c89" stroke-width="0.4"/><circle cx="107.4" cy="157.0" r="0.7" fill="#8693a0"/><polygon points="109.3,153.0 115.5,149.7 120.9,152.5 114.7,155.8" fill="#566372" stroke="#6f7c89" stroke-width="0.4"/><circle cx="115.1" cy="152.8" r="0.7" fill="#8693a0"/><polygon points="117.1,148.8 123.3,145.5 128.7,148.3 122.5,151.6" fill="#566372" stroke="#6f7c89" stroke-width="0.4"/><circle cx="122.9" cy="148.6" r="0.7" fill="#8693a0"/><polygon points="124.8,144.7 131.0,141.4 136.4,144.2 130.2,147.5" fill="#566372" stroke="#6f7c89" stroke-width="0.4"/><circle cx="130.6" cy="144.5" r="0.7" fill="#8693a0"/><polygon points="132.5,140.5 138.7,137.2 144.1,140.0 137.9,143.3" fill="#566372" stroke="#6f7c89" stroke-width="0.4"/><circle cx="138.3" cy="140.3" r="0.7" fill="#8693a0"/><polygon points="140.2,136.3 146.4,133.0 151.8,135.8 145.6,139.1" fill="#566372" stroke="#6f7c89" stroke-width="0.4"/><circle cx="146.0" cy="136.1" r="0.7" fill="#8693a0"/><polygon points="148.0,132.1 154.2,128.8 159.6,131.6 153.4,134.9" fill="#566372" stroke="#6f7c89" stroke-width="0.4"/><circle cx="153.8" cy="131.9" r="0.7" fill="#8693a0"/><polygon points="155.7,127.9 161.9,124.6 167.3,127.4 161.1,130.7" fill="#566372" stroke="#6f7c89" stroke-width="0.4"/><circle cx="161.5" cy="127.7" r="0.7" fill="#8693a0"/><polygon points="163.4,123.7 169.6,120.4 175.0,123.2 168.8,126.5" fill="#566372" stroke="#6f7c89" stroke-width="0.4"/><circle cx="169.2" cy="123.5" r="0.7" fill="#8693a0"/><polygon points="171.1,119.6 177.3,116.3 182.7,119.1 176.5,122.4" fill="#566372" stroke="#6f7c89" stroke-width="0.4"/><circle cx="176.9" cy="119.4" r="0.7" fill="#8693a0"/><polygon points="178.9,115.4 185.1,112.1 190.5,114.9 184.3,118.2" fill="#566372" stroke="#6f7c89" stroke-width="0.4"/><circle cx="184.7" cy="115.2" r="0.7" fill="#8693a0"/><polygon points="109.2,161.2 115.4,157.9 120.8,160.7 114.6,164.0" fill="#566372" stroke="#6f7c89" stroke-width="0.4"/><circle cx="115.0" cy="161.0" r="0.7" fill="#8693a0"/><polygon points="116.9,157.0 123.1,153.7 128.5,156.5 122.3,159.8" fill="#566372" stroke="#6f7c89" stroke-width="0.4"/><circle cx="122.7" cy="156.8" r="0.7" fill="#8693a0"/><polygon points="124.7,152.8 130.9,149.5 136.3,152.3 130.1,155.6" fill="#566372" stroke="#6f7c89" stroke-width="0.4"/><circle cx="130.5" cy="152.6" r="0.7" fill="#8693a0"/><polygon points="132.4,148.7 138.6,145.4 144.0,148.2 137.8,151.5" fill="#566372" stroke="#6f7c89" stroke-width="0.4"/><circle cx="138.2" cy="148.5" r="0.7" fill="#8693a0"/><polygon points="140.1,144.5 146.3,141.2 151.7,144.0 145.5,147.3" fill="#566372" stroke="#6f7c89" stroke-width="0.4"/><circle cx="145.9" cy="144.3" r="0.7" fill="#8693a0"/><polygon points="147.8,140.3 154.0,137.0 159.4,139.8 153.2,143.1" fill="#566372" stroke="#6f7c89" stroke-width="0.4"/><circle cx="153.6" cy="140.1" r="0.7" fill="#8693a0"/><polygon points="155.6,136.1 161.8,132.8 167.2,135.6 161.0,138.9" fill="#566372" stroke="#6f7c89" stroke-width="0.4"/><circle cx="161.4" cy="135.9" r="0.7" fill="#8693a0"/><polygon points="163.3,131.9 169.5,128.6 174.9,131.4 168.7,134.7" fill="#566372" stroke="#6f7c89" stroke-width="0.4"/><circle cx="169.1" cy="131.7" r="0.7" fill="#8693a0"/><polygon points="171.0,127.7 177.2,124.4 182.6,127.2 176.4,130.5" fill="#566372" stroke="#6f7c89" stroke-width="0.4"/><circle cx="176.8" cy="127.5" r="0.7" fill="#8693a0"/><polygon points="178.7,123.6 184.9,120.3 190.3,123.1 184.1,126.4" fill="#566372" stroke="#6f7c89" stroke-width="0.4"/><circle cx="184.5" cy="123.4" r="0.7" fill="#8693a0"/><polygon points="186.5,119.4 192.7,116.1 198.1,118.9 191.9,122.2" fill="#566372" stroke="#6f7c89" stroke-width="0.4"/><circle cx="192.3" cy="119.2" r="0.7" fill="#8693a0"/><polygon points="116.8,165.2 123.0,161.9 128.4,164.7 122.2,168.0" fill="#566372" stroke="#6f7c89" stroke-width="0.4"/><circle cx="122.6" cy="165.0" r="0.7" fill="#8693a0"/><polygon points="124.5,161.0 130.7,157.7 136.1,160.5 129.9,163.8" fill="#566372" stroke="#6f7c89" stroke-width="0.4"/><circle cx="130.3" cy="160.8" r="0.7" fill="#8693a0"/><polygon points="132.3,156.8 138.5,153.5 143.9,156.3 137.7,159.6" fill="#566372" stroke="#6f7c89" stroke-width="0.4"/><circle cx="138.1" cy="156.6" r="0.7" fill="#8693a0"/><polygon points="140.0,152.7 146.2,149.4 151.6,152.2 145.4,155.5" fill="#566372" stroke="#6f7c89" stroke-width="0.4"/><circle cx="145.8" cy="152.5" r="0.7" fill="#8693a0"/><polygon points="147.7,148.5 153.9,145.2 159.3,148.0 153.1,151.3" fill="#566372" stroke="#6f7c89" stroke-width="0.4"/><circle cx="153.5" cy="148.3" r="0.7" fill="#8693a0"/><polygon points="155.4,144.3 161.6,141.0 167.0,143.8 160.8,147.1" fill="#566372" stroke="#6f7c89" stroke-width="0.4"/><circle cx="161.2" cy="144.1" r="0.7" fill="#8693a0"/><polygon points="163.2,140.1 169.4,136.8 174.8,139.6 168.6,142.9" fill="#566372" stroke="#6f7c89" stroke-width="0.4"/><circle cx="169.0" cy="139.9" r="0.7" fill="#8693a0"/><polygon points="170.9,135.9 177.1,132.6 182.5,135.4 176.3,138.7" fill="#566372" stroke="#6f7c89" stroke-width="0.4"/><circle cx="176.7" cy="135.7" r="0.7" fill="#8693a0"/><polygon points="178.6,131.7 184.8,128.4 190.2,131.2 184.0,134.5" fill="#566372" stroke="#6f7c89" stroke-width="0.4"/><circle cx="184.4" cy="131.5" r="0.7" fill="#8693a0"/><polygon points="186.3,127.6 192.5,124.3 197.9,127.1 191.7,130.4" fill="#566372" stroke="#6f7c89" stroke-width="0.4"/><circle cx="192.1" cy="127.4" r="0.7" fill="#8693a0"/><polygon points="194.1,123.4 200.3,120.1 205.7,122.9 199.5,126.2" fill="#566372" stroke="#6f7c89" stroke-width="0.4"/><circle cx="199.9" cy="123.2" r="0.7" fill="#8693a0"/><polygon points="124.4,169.2 130.6,165.9 136.0,168.7 129.8,172.0" fill="#566372" stroke="#6f7c89" stroke-width="0.4"/><circle cx="130.2" cy="169.0" r="0.7" fill="#8693a0"/><polygon points="132.1,165.0 138.3,161.7 143.7,164.5 137.5,167.8" fill="#566372" stroke="#6f7c89" stroke-width="0.4"/><circle cx="137.9" cy="164.8" r="0.7" fill="#8693a0"/><polygon points="139.9,160.8 146.1,157.5 151.5,160.3 145.3,163.6" fill="#566372" stroke="#6f7c89" stroke-width="0.4"/><circle cx="145.7" cy="160.6" r="0.7" fill="#8693a0"/><polygon points="147.6,156.7 153.8,153.4 159.2,156.2 153.0,159.5" fill="#566372" stroke="#6f7c89" stroke-width="0.4"/><circle cx="153.4" cy="156.5" r="0.7" fill="#8693a0"/><polygon points="155.3,152.5 161.5,149.2 166.9,152.0 160.7,155.3" fill="#566372" stroke="#6f7c89" stroke-width="0.4"/><circle cx="161.1" cy="152.3" r="0.7" fill="#8693a0"/><polygon points="163.0,148.3 169.2,145.0 174.6,147.8 168.4,151.1" fill="#566372" stroke="#6f7c89" stroke-width="0.4"/><circle cx="168.8" cy="148.1" r="0.7" fill="#8693a0"/><polygon points="170.8,144.1 177.0,140.8 182.4,143.6 176.2,146.9" fill="#566372" stroke="#6f7c89" stroke-width="0.4"/><circle cx="176.6" cy="143.9" r="0.7" fill="#8693a0"/><polygon points="178.5,139.9 184.7,136.6 190.1,139.4 183.9,142.7" fill="#566372" stroke="#6f7c89" stroke-width="0.4"/><circle cx="184.3" cy="139.7" r="0.7" fill="#8693a0"/><polygon points="186.2,135.7 192.4,132.4 197.8,135.2 191.6,138.5" fill="#566372" stroke="#6f7c89" stroke-width="0.4"/><circle cx="192.0" cy="135.5" r="0.7" fill="#8693a0"/><polygon points="193.9,131.6 200.1,128.3 205.5,131.1 199.3,134.4" fill="#566372" stroke="#6f7c89" stroke-width="0.4"/><circle cx="199.7" cy="131.4" r="0.7" fill="#8693a0"/><polygon points="201.7,127.4 207.9,124.1 213.3,126.9 207.1,130.2" fill="#566372" stroke="#6f7c89" stroke-width="0.4"/><circle cx="207.5" cy="127.2" r="0.7" fill="#8693a0"/><polygon points="132.0,173.2 138.2,169.9 143.6,172.7 137.4,176.0" fill="#566372" stroke="#6f7c89" stroke-width="0.4"/><circle cx="137.8" cy="173.0" r="0.7" fill="#8693a0"/><polygon points="139.7,169.0 145.9,165.7 151.3,168.5 145.1,171.8" fill="#566372" stroke="#6f7c89" stroke-width="0.4"/><circle cx="145.5" cy="168.8" r="0.7" fill="#8693a0"/><polygon points="147.5,164.8 153.7,161.5 159.1,164.3 152.9,167.6" fill="#566372" stroke="#6f7c89" stroke-width="0.4"/><circle cx="153.3" cy="164.6" r="0.7" fill="#8693a0"/><polygon points="155.2,160.7 161.4,157.4 166.8,160.2 160.6,163.5" fill="#566372" stroke="#6f7c89" stroke-width="0.4"/><circle cx="161.0" cy="160.5" r="0.7" fill="#8693a0"/><polygon points="162.9,156.5 169.1,153.2 174.5,156.0 168.3,159.3" fill="#566372" stroke="#6f7c89" stroke-width="0.4"/><circle cx="168.7" cy="156.3" r="0.7" fill="#8693a0"/><polygon points="170.6,152.3 176.8,149.0 182.2,151.8 176.0,155.1" fill="#566372" stroke="#6f7c89" stroke-width="0.4"/><circle cx="176.4" cy="152.1" r="0.7" fill="#8693a0"/><polygon points="178.4,148.1 184.6,144.8 190.0,147.6 183.8,150.9" fill="#566372" stroke="#6f7c89" stroke-width="0.4"/><circle cx="184.2" cy="147.9" r="0.7" fill="#8693a0"/><polygon points="186.1,143.9 192.3,140.6 197.7,143.4 191.5,146.7" fill="#566372" stroke="#6f7c89" stroke-width="0.4"/><circle cx="191.9" cy="143.7" r="0.7" fill="#8693a0"/><polygon points="193.8,139.7 200.0,136.4 205.4,139.2 199.2,142.5" fill="#566372" stroke="#6f7c89" stroke-width="0.4"/><circle cx="199.6" cy="139.5" r="0.7" fill="#8693a0"/><polygon points="201.5,135.6 207.7,132.3 213.1,135.1 206.9,138.4" fill="#566372" stroke="#6f7c89" stroke-width="0.4"/><circle cx="207.3" cy="135.4" r="0.7" fill="#8693a0"/><polygon points="209.3,131.4 215.5,128.1 220.9,130.9 214.7,134.2" fill="#566372" stroke="#6f7c89" stroke-width="0.4"/><circle cx="215.1" cy="131.2" r="0.7" fill="#8693a0"/><polygon points="174.0,167.0 202.0,149.0 225.0,162.0 194.0,179.0" fill="#aab4be" stroke="#3a4652" stroke-width="1.0" stroke-linejoin="round" /><ellipse cx="214" cy="141" rx="4" ry="2.2" fill="#5fae78" stroke="#2e3a45" stroke-width="0.6"/><ellipse cx="222" cy="137" rx="4" ry="2.2" fill="#5fae78" stroke="#2e3a45" stroke-width="0.6"/><ellipse cx="230" cy="141" rx="4" ry="2.2" fill="#5fae78" stroke="#2e3a45" stroke-width="0.6"/><ellipse cx="238" cy="145" rx="4" ry="2.2" fill="#d9645c" stroke="#2e3a45" stroke-width="0.6"/><ellipse cx="222" cy="146" rx="4" ry="2.2" fill="#5fae78" stroke="#2e3a45" stroke-width="0.6"/><ellipse cx="230" cy="150" rx="4" ry="2.2" fill="#5fae78" stroke="#2e3a45" stroke-width="0.6"/><polygon points="148.0,182.0 155.0,178.0 173.0,189.0 166.0,193.0" fill="#63b27a" stroke="#2e3a45" stroke-width="0.8" stroke-linejoin="round" /><polygon points="160.0,175.0 167.0,171.0 185.0,182.0 178.0,186.0" fill="#4d5a67" stroke="#2e3a45" stroke-width="0.8" stroke-linejoin="round" /><circle cx="166" cy="175.5" r="1" fill="#8a96a2"/><circle cx="171" cy="178.5" r="1" fill="#8a96a2"/><circle cx="176" cy="181.5" r="1" fill="#8a96a2"/><ellipse cx="83" cy="131" rx="21" ry="24" fill="#4a5664" stroke="#1d2a38" stroke-width="1.8"/><ellipse cx="78" cy="135.5" rx="15" ry="15" fill="#aeb8c1" stroke="#1d2a38" stroke-width="1.5"/><ellipse cx="73.5" cy="136" rx="9" ry="9.5" fill="#62707d" stroke="#2e3a45" stroke-width="1"/><path d="M74,152 C62,160 57,178 67,188 C75,196 90,197 102,199" fill="none" stroke="#1d2a38" stroke-width="4" stroke-linecap="round"/><path d="M74,152 C62,160 57,178 67,188 C75,196 90,197 102,199" fill="none" stroke="#5a6673" stroke-width="1.6" stroke-linecap="round"/><ellipse cx="110" cy="200.5" rx="9.5" ry="6" transform="rotate(15 110 200.5)" fill="#3d4955" stroke="#1d2a38" stroke-width="1.5"/>
<g transform="translate(192.6,71.5) rotate(-4)" fill="none" stroke="#e0a257" stroke-width="4.0" stroke-linecap="round"><path d="M0.0,-9.1 A9.5,9.5 0 0 1 0.0,9.1"/><path d="M8.4,-16.7 A19.1,19.1 0 0 1 8.4,16.7"/><path d="M16.7,-23.7 A28.0,28.0 0 0 1 16.7,23.7"/><path d="M26.7,-31.5 A39.1,39.1 0 0 1 26.7,31.5"/></g>
<ellipse cx="407" cy="93" rx="20" ry="5" transform="rotate(-25 407 93)" fill="#dde4ea" opacity="0.9"/>
<ellipse cx="480" cy="122" rx="20" ry="5" transform="rotate(-25 480 122)" fill="#dde4ea" opacity="0.9"/>
<ellipse cx="451" cy="194" rx="20" ry="5" transform="rotate(-25 451 194)" fill="#dde4ea" opacity="0.9"/>
<use href="#spk" x="388" y="25"/>
<use href="#spk" x="461" y="54"/>
<use href="#spk" x="432" y="126"/>
<g transform="translate(431,43.3) rotate(0)" fill="none" stroke="#e0a257" stroke-width="3.3" stroke-linecap="round"><path d="M0.0,-6.3 A6.6,6.6 0 0 1 0.0,6.3"/><path d="M5.8,-11.5 A13.1,13.1 0 0 1 5.8,11.5"/><path d="M11.5,-16.3 A19.3,19.3 0 0 1 11.5,16.3"/><path d="M18.4,-21.7 A26.9,26.9 0 0 1 18.4,21.7"/></g>
<g transform="translate(503.6,75.6) rotate(0)" fill="none" stroke="#e0a257" stroke-width="3.3" stroke-linecap="round"><path d="M0.0,-6.3 A6.6,6.6 0 0 1 0.0,6.3"/><path d="M5.8,-11.5 A13.1,13.1 0 0 1 5.8,11.5"/><path d="M11.5,-16.3 A19.3,19.3 0 0 1 11.5,16.3"/><path d="M18.4,-21.7 A26.9,26.9 0 0 1 18.4,21.7"/></g>
<g transform="translate(475.6,160.4) rotate(0)" fill="none" stroke="#e0a257" stroke-width="3.3" stroke-linecap="round"><path d="M0.0,-6.5 A6.8,6.8 0 0 1 0.0,6.5"/><path d="M6.0,-11.8 A13.5,13.5 0 0 1 6.0,11.8"/><path d="M11.8,-16.8 A19.8,19.8 0 0 1 11.8,16.8"/><path d="M18.9,-22.3 A27.6,27.6 0 0 1 18.9,22.3"/></g>
<g transform="translate(506.4,132.4) rotate(0)" fill="none" stroke="#e0a257" stroke-width="3.3" stroke-linecap="round"><path d="M0.0,-6.5 A6.8,6.8 0 0 1 0.0,6.5"/><path d="M6.0,-11.8 A13.5,13.5 0 0 1 6.0,11.8"/><path d="M11.8,-16.8 A19.8,19.8 0 0 1 11.8,16.8"/><path d="M18.9,-22.3 A27.6,27.6 0 0 1 18.9,22.3"/></g>
<polygon points="626.5,149.2 686.2,182.0 687.0,207.0 627.5,175.2" fill="#8e9aa7" stroke="#1d2a38" stroke-width="1.9" stroke-linejoin="round" /><polygon points="686.2,182.0 753.5,145.4 753.5,172.3 687.0,207.0" fill="#6e7a87" stroke="#1d2a38" stroke-width="1.9" stroke-linejoin="round" /><polygon points="626.5,149.2 693.8,112.7 753.5,145.4 686.2,182.0" fill="#e4e8eb" stroke="#1d2a38" stroke-width="1.9" stroke-linejoin="round" /><polygon points="693.5,184.0 705.5,177.5 705.5,191.5 693.5,198.0" fill="#cdc38e" stroke="#3a4048" stroke-width="0.7" stroke-linejoin="round" /><polygon points="695.1,185.8 703.9,181.0 703.9,190.6 695.1,195.4" fill="#27313b" stroke="none" stroke-width="0" stroke-linejoin="round" /><polygon points="708.7,176.2 720.7,169.7 720.7,183.7 708.7,190.2" fill="#cdc38e" stroke="#3a4048" stroke-width="0.7" stroke-linejoin="round" /><polygon points="710.3,178.0 719.1,173.2 719.1,182.8 710.3,187.6" fill="#27313b" stroke="none" stroke-width="0" stroke-linejoin="round" /><polygon points="723.9,168.4 735.9,161.9 735.9,175.9 723.9,182.4" fill="#cdc38e" stroke="#3a4048" stroke-width="0.7" stroke-linejoin="round" /><polygon points="725.5,170.2 734.3,165.4 734.3,175.0 725.5,179.8" fill="#27313b" stroke="none" stroke-width="0" stroke-linejoin="round" /><polygon points="739.1,160.6 751.1,154.1 751.1,168.1 739.1,174.6" fill="#cdc38e" stroke="#3a4048" stroke-width="0.7" stroke-linejoin="round" /><polygon points="740.7,162.4 749.5,157.6 749.5,167.2 740.7,172.0" fill="#27313b" stroke="none" stroke-width="0" stroke-linejoin="round" /><polygon points="647.7,169.4 660.0,176.0 660.0,186.5 647.7,180.0" fill="#eef1f3" stroke="#2a3440" stroke-width="0.8" stroke-linejoin="round" /><polygon points="649.5,172.5 658.0,177.0 658.0,184.0 649.5,179.5" fill="#2a3440" stroke="none" stroke-width="0" stroke-linejoin="round" /><g fill="#4c8f69"><circle cx="634" cy="163.5" r="1.1"/><circle cx="638" cy="165.5" r="1.1"/><circle cx="634" cy="168.5" r="1.1"/><circle cx="638" cy="170.5" r="1.1"/><circle cx="642" cy="167.5" r="1.1"/><circle cx="642" cy="172.5" r="1.1"/></g><path d="M680,142 L671.8,137.0" stroke="#5fa37a" stroke-width="3.2"/><polygon points="666,133.5 674.5,133.0 669.5,141.2" fill="#5fa37a"/><path d="M699,141 L710.9,135.0" stroke="#2f6f99" stroke-width="3.2"/><polygon points="717,132 712.9,139.4 708.6,130.8" fill="#2f6f99"/><path d="M662,161.5 L676.9,154.4" stroke="#2f6f99" stroke-width="3.2"/><polygon points="683,151.5 678.7,158.8 674.6,150.2" fill="#2f6f99"/><path d="M697,151.5 L708.0,157.3" stroke="#2f6f99" stroke-width="3.2"/><polygon points="714,160.5 705.6,161.5 710.0,153.0" fill="#2f6f99"/><path d="M678,146 q6,-3 11,0 q6,3 11,0 M680,150.5 q6,-3 11,0 q6,3 11,0" fill="none" stroke="#2f6f99" stroke-width="1.7"/><path d="M686,141 q5,-2 9,0 q5,2 8,0" fill="none" stroke="#5fa37a" stroke-width="1.6"/>
<g fill="none" stroke="#3d7fa8" stroke-width="2.6" stroke-linecap="round"><path d="M656,101 L656,121"/><path d="M650.6,95.5 A7,7 0 0 0 650.6,104.5"/><path d="M661.4,95.5 A7,7 0 0 1 661.4,104.5"/><path d="M647.7,92.3 A11.3,11.3 0 0 0 647.7,107.7"/><path d="M664.3,92.3 A11.3,11.3 0 0 1 664.3,107.7"/><path d="M643.9,88.7 A16.6,16.6 0 0 0 643.9,111.3"/><path d="M668.1,88.7 A16.6,16.6 0 0 1 668.1,111.3"/></g><circle cx="656" cy="100" r="2.6" fill="#3d7fa8"/>
<g fill="none" stroke="#3d7fa8" stroke-linecap="round" stroke-linejoin="round"><path d="M694,104 L694,93" stroke-width="4"/><path d="M694,97 Q690,92.5 684,92.6" stroke-width="2.6"/><path d="M694,94 Q690,91 689.7,84.5" stroke-width="2.4"/><path d="M694,94 Q698.5,91 698.7,84.5" stroke-width="2.4"/><path d="M695,98 Q699,92 706.5,89.6" stroke-width="2.6"/></g><polygon points="689.7,78 686,85 693.4,85" fill="#3d7fa8"/><polygon points="698.8,78 695.1,85 702.5,85" fill="#3d7fa8"/><polygon points="711.5,86.5 704,86 707.5,93" fill="#3d7fa8"/>
<ellipse cx="808" cy="95" rx="20" ry="5" transform="rotate(-25 808 95)" fill="#dde4ea" opacity="0.9"/><ellipse cx="872" cy="142" rx="24" ry="6" transform="rotate(-25 872 142)" fill="#dde4ea" opacity="0.9"/><ellipse cx="932" cy="160" rx="28" ry="5" transform="rotate(0 932 160)" fill="#dde4ea" opacity="0.9"/><ellipse cx="902" cy="228" rx="26" ry="6" transform="rotate(-25 902 228)" fill="#dde4ea" opacity="0.9"/><ellipse cx="828" cy="274" rx="22" ry="5" transform="rotate(-25 828 274)" fill="#dde4ea" opacity="0.9"/><polygon points="787.0,44.0 805.0,35.5 811.0,38.0 811.0,80.0 795.0,88.0 787.0,80.0" fill="#aab4bd" stroke="#1d2a38" stroke-width="1.6" stroke-linejoin="round" /><polygon points="793.0,48.5 817.0,37.5 824.0,39.0 802.0,52.5 802.6,93.5 794.5,91.0" fill="#cdd5dc" stroke="#1d2a38" stroke-width="1.6" stroke-linejoin="round" /><polygon points="802.0,52.5 824.0,39.0 824.6,86.0 802.6,93.5" fill="#dfe4e9" stroke="#1d2a38" stroke-width="1.6" stroke-linejoin="round" /><polygon points="804.5,55.0 822.0,44.5 822.5,83.5 805.0,90.0" fill="url(#grille)" stroke="#3a4550" stroke-width="0.8" stroke-linejoin="round" /><ellipse cx="814" cy="84" rx="3" ry="1.5" fill="#e3e8ed" stroke="#3a4550" stroke-width="0.5"/><polygon points="875.9,99.2 890.5,93.9 890.5,133.1 874.0,141.7" fill="#b6c1ca" stroke="#1d2a38" stroke-width="1.6" stroke-linejoin="round" /><polygon points="849.3,88.6 865.9,79.3 890.5,93.9 875.9,99.2" fill="#e6eaee" stroke="#1d2a38" stroke-width="1.6" stroke-linejoin="round" /><polygon points="849.3,88.6 875.9,99.2 874.0,141.7 850.0,129.1" fill="#cad3db" stroke="#1d2a38" stroke-width="1.6" stroke-linejoin="round" /><ellipse cx="883.2" cy="108.5" rx="2" ry="2.4" fill="#8794a0" stroke="#1d2a38" stroke-width="1"/><ellipse cx="883.2" cy="119.1" rx="2" ry="2.4" fill="#8794a0" stroke="#1d2a38" stroke-width="1"/><ellipse cx="883.2" cy="129.7" rx="2" ry="2.4" fill="#8794a0" stroke="#1d2a38" stroke-width="1"/><path d="M856,111 v5 M858.5,108 v10 M861,106 v14 M863.5,109 v9 M866,111 v6" stroke="#3a4550" stroke-width="0.9"/><path d="M912.8,131 L912.8,129 A19.2,10 0 0 1 951.2,129 L951.2,131 z" fill="#9ba7b2" stroke="#1d2a38" stroke-width="1.5"/><path d="M920,122.5 v7 M944,122.5 v7" stroke="#3a4550" stroke-width="0.8"/><ellipse cx="932" cy="144.5" rx="29" ry="17" fill="#aab5bf" stroke="#1d2a38" stroke-width="1.7"/><ellipse cx="932" cy="148" rx="26" ry="12.3" fill="#e7ecf0" stroke="#2a3540" stroke-width="0.9"/><ellipse cx="932" cy="149.5" rx="19" ry="8.8" fill="url(#grille)" stroke="#2a3540" stroke-width="0.9"/><g transform="rotate(22 907 203.7)"><path d="M893,178.4 L907,178.4 L907,229 L893,229 A17,25.3 0 0 1 893,178.4 z" fill="#c3ccd4" stroke="#1d2a38" stroke-width="1.6"/><ellipse cx="907" cy="203.7" rx="18" ry="25.3" fill="#d5dce2" stroke="#1d2a38" stroke-width="1.6"/><ellipse cx="907.5" cy="203.7" rx="14.5" ry="21" fill="url(#grille)" stroke="#2a3540" stroke-width="0.9"/></g><polygon points="805.0,218.0 829.0,205.0 840.0,209.0 813.6,221.0 815.0,273.7 806.0,259.5" fill="#b3bdc6" stroke="#1d2a38" stroke-width="1.6" stroke-linejoin="round" /><polygon points="813.6,221.0 846.0,206.8 849.0,261.0 815.0,273.7" fill="#d5dbe1" stroke="#1d2a38" stroke-width="1.6" stroke-linejoin="round" /><polygon points="818.5,224.5 843.5,212.0 845.5,258.7 819.5,270.0" fill="url(#grille)" stroke="#3a4550" stroke-width="0.8" stroke-linejoin="round" /><ellipse cx="834" cy="260" rx="3" ry="1.6" fill="#e3e8ed" stroke="#3a4550" stroke-width="0.5"/>
<g transform="translate(833.5,57) rotate(0)" fill="none" stroke="#e0a257" stroke-width="3.3" stroke-linecap="round"><path d="M0.0,-9.3 A10.6,10.6 0 0 1 0.0,9.3"/><path d="M4.6,-13.1 A15.5,15.5 0 0 1 4.6,13.1"/><path d="M10.2,-17.5 A21.7,21.7 0 0 1 10.2,17.5"/></g>
<g transform="translate(903,95) rotate(-35)" fill="none" stroke="#e0a257" stroke-width="3.3" stroke-linecap="round"><path d="M0.0,-10.1 A11.5,11.5 0 0 1 0.0,10.1"/><path d="M5.0,-14.3 A16.9,16.9 0 0 1 5.0,14.3"/><path d="M11.0,-19.0 A23.6,23.6 0 0 1 11.0,19.0"/></g>
<g transform="translate(964,129.3) rotate(0)" fill="none" stroke="#e0a257" stroke-width="3.3" stroke-linecap="round"><path d="M0.0,-6.0 A6.3,6.3 0 0 1 0.0,6.0"/><path d="M5.5,-11.0 A12.5,12.5 0 0 1 5.5,11.0"/><path d="M11.0,-15.5 A18.4,18.4 0 0 1 11.0,15.5"/><path d="M17.6,-20.7 A25.7,25.7 0 0 1 17.6,20.7"/></g>
<g transform="translate(933.6,201.5) rotate(0)" fill="none" stroke="#e0a257" stroke-width="3.3" stroke-linecap="round"><path d="M0.0,-6.7 A7.0,7.0 0 0 1 0.0,6.7"/><path d="M6.1,-12.2 A13.9,13.9 0 0 1 6.1,12.2"/><path d="M12.2,-17.3 A20.4,20.4 0 0 1 12.2,17.3"/><path d="M19.5,-23.0 A28.5,28.5 0 0 1 19.5,23.0"/></g>
<g transform="translate(857,246) rotate(0)" fill="none" stroke="#e0a257" stroke-width="3.3" stroke-linecap="round"><path d="M0.0,-7.0 A7.3,7.3 0 0 1 0.0,7.0"/><path d="M6.4,-12.7 A14.5,14.5 0 0 1 6.4,12.7"/><path d="M12.7,-18.0 A21.3,21.3 0 0 1 12.7,18.0"/><path d="M20.4,-24.0 A29.8,29.8 0 0 1 20.4,24.0"/></g>
<polygon points="254.7,354.5 320.8,392.0 320.8,412.3 253.8,375.6" fill="#73808c" stroke="#1d2a38" stroke-width="1.9" stroke-linejoin="round" /><polygon points="320.8,392.0 377.7,359.0 377.7,378.3 320.8,412.3" fill="#8a95a0" stroke="#1d2a38" stroke-width="1.9" stroke-linejoin="round" /><polygon points="254.7,354.5 312.5,323.3 377.7,359.0 320.8,392.0" fill="#d3d9de" stroke="#1d2a38" stroke-width="1.9" stroke-linejoin="round" /><polygon points="259.0,361.0 293.0,380.0 293.0,386.0 259.0,367.0" fill="#4b5763" stroke="#2a3440" stroke-width="0.8" stroke-linejoin="round" /><polygon points="259.0,369.0 293.0,388.0 293.0,394.0 259.0,375.0" fill="#4b5763" stroke="#2a3440" stroke-width="0.8" stroke-linejoin="round" /><polygon points="295.0,383.0 316.0,395.0 316.0,408.0 295.0,396.0" fill="#7d8995" stroke="#2a3440" stroke-width="0.6" stroke-linejoin="round" /><path d="M366,369.0 v9" stroke="#3c4854" stroke-width="1.1"/><path d="M369,367.2 v9" stroke="#3c4854" stroke-width="1.1"/><path d="M372,365.4 v9" stroke="#3c4854" stroke-width="1.1"/><polygon points="247.3,352.0 254.7,355.0 254.7,379.0 247.3,376.0" fill="#7d8995" stroke="#1d2a38" stroke-width="1.4" stroke-linejoin="round" /><path d="M249.5,357 l3,1.3 v15 l-3,-1.3 z" fill="#b5bfc8" stroke="#26323e" stroke-width="0.8"/><polygon points="311.0,394.0 327.0,401.0 327.0,418.0 311.0,411.0" fill="#7d8995" stroke="#1d2a38" stroke-width="1.4" stroke-linejoin="round" /><path d="M313.5,398 l3,1.3 v11 l-3,-1.3 z" fill="#b5bfc8" stroke="#26323e" stroke-width="0.8"/><circle cx="322" cy="404" r="1" fill="#26323e"/><circle cx="322" cy="412" r="1" fill="#26323e"/><path d="M311,353 L303.0,348.7" stroke="#3d7cab" stroke-width="3.2"/><polygon points="297,345.5 305.5,344.6 300.9,353.0" fill="#3d7cab"/><path d="M324,360 L332.1,364.6" stroke="#3d7cab" stroke-width="3.2"/><polygon points="338,368 329.5,368.7 334.3,360.4" fill="#3d7cab"/><path d="M317,357 L331.6,348.8" stroke="#3d7cab" stroke-width="3.2"/><polygon points="337.5,345.5 333.7,353.1 329.0,344.7" fill="#3d7cab"/><path d="M317,357 L303.0,364.7" stroke="#3d7cab" stroke-width="3.2"/><polygon points="297,368 300.8,360.4 305.5,368.8" fill="#3d7cab"/>
<g transform="translate(342.5,310.3)"><rect x="-2.5" y="-11.4" width="5" height="6" rx="0.6" fill="#3a7aa8" transform="rotate(0)"/><rect x="-2.5" y="-11.4" width="5" height="6" rx="0.6" fill="#3a7aa8" transform="rotate(45)"/><rect x="-2.5" y="-11.4" width="5" height="6" rx="0.6" fill="#3a7aa8" transform="rotate(90)"/><rect x="-2.5" y="-11.4" width="5" height="6" rx="0.6" fill="#3a7aa8" transform="rotate(135)"/><rect x="-2.5" y="-11.4" width="5" height="6" rx="0.6" fill="#3a7aa8" transform="rotate(180)"/><rect x="-2.5" y="-11.4" width="5" height="6" rx="0.6" fill="#3a7aa8" transform="rotate(225)"/><rect x="-2.5" y="-11.4" width="5" height="6" rx="0.6" fill="#3a7aa8" transform="rotate(270)"/><rect x="-2.5" y="-11.4" width="5" height="6" rx="0.6" fill="#3a7aa8" transform="rotate(315)"/><circle r="8.6" fill="#3a7aa8"/><circle r="4.3" fill="#f1f6f9"/></g><g fill="none" stroke="#5b9a78" stroke-width="2" stroke-linecap="round"><path d="M352.1,299.5 L356,294.2 L363,294.2"/><path d="M355.6,304.7 L360,304.7 L363.5,300.3"/><path d="M357,310.8 L366,310.8"/><path d="M355.6,316 L360,316 L363.5,320.8"/><path d="M352.1,321.7 L356,326.8 L363,326.8"/></g><g fill="#f1f6f9" stroke="#5b9a78" stroke-width="1.8"><circle cx="365.6" cy="294.2" r="2.5"/><circle cx="368.7" cy="310.8" r="2.5"/><circle cx="365.6" cy="327.2" r="2.5"/></g>
<use href="#phone" x="96" y="380"/>
<use href="#phone" x="39" y="410"/>
<use href="#phone" x="143" y="406"/>
<use href="#phone" x="88" y="436"/>
<use href="#phone" x="190" y="431"/>
<use href="#phone" x="138" y="461"/>
<use href="#phone" x="236" y="457"/>
<use href="#phone" x="187" y="488"/>
<polygon points="638.0,373.2 699.3,407.4 700.4,429.5 640.0,394.3" fill="#8f9ba8" stroke="#1d2a38" stroke-width="1.9" stroke-linejoin="round" /><polygon points="699.3,407.4 769.7,364.2 770.7,383.3 700.4,429.5" fill="#7a8794" stroke="#1d2a38" stroke-width="1.9" stroke-linejoin="round" /><polygon points="638.0,373.2 709.4,333.0 769.7,364.2 699.3,407.4" fill="#e4e8eb" stroke="#1d2a38" stroke-width="1.9" stroke-linejoin="round" /><polygon points="644.0,382.3 657.0,389.5 657.0,401.4 644.0,394.0" fill="#d9c88a" stroke="#2a3440" stroke-width="0.8" stroke-linejoin="round" /><polygon points="646.0,385.5 655.0,390.5 655.0,398.5 646.0,393.5" fill="#2a3440" stroke="none" stroke-width="0" stroke-linejoin="round" /><polygon points="705.5,410.5 735.5,393.5 742.5,397.5 712.5,414.5" fill="#8fcf9c" stroke="#1d2a38" stroke-width="1.1" stroke-linejoin="round" /><polygon points="712.5,414.5 742.5,397.5 742.5,411.5 712.5,428.5" fill="#5aa86a" stroke="#1d2a38" stroke-width="1.1" stroke-linejoin="round" /><polygon points="705.5,410.5 712.5,414.5 712.5,428.5 705.5,424.5" fill="#4c935b" stroke="#1d2a38" stroke-width="1.1" stroke-linejoin="round" /><circle cx="711.5" cy="409.0" r="1.5" fill="#c9e6cf" stroke="#2a3a30" stroke-width="0.6"/><circle cx="717.5" cy="405.6" r="1.5" fill="#c9e6cf" stroke="#2a3a30" stroke-width="0.6"/><circle cx="723.5" cy="402.2" r="1.5" fill="#c9e6cf" stroke="#2a3a30" stroke-width="0.6"/><circle cx="729.5" cy="398.8" r="1.5" fill="#c9e6cf" stroke="#2a3a30" stroke-width="0.6"/><circle cx="735.5" cy="395.4" r="1.5" fill="#c9e6cf" stroke="#2a3a30" stroke-width="0.6"/><path d="M715.5,418.5 v6" stroke="#2f5a3a" stroke-width="0.8"/><path d="M720.3,415.8 v6" stroke="#2f5a3a" stroke-width="0.8"/><path d="M725.1,413.1 v6" stroke="#2f5a3a" stroke-width="0.8"/><path d="M729.9,410.4 v6" stroke="#2f5a3a" stroke-width="0.8"/><path d="M734.7,407.7 v6" stroke="#2f5a3a" stroke-width="0.8"/><path d="M739.5,405.0 v6" stroke="#2f5a3a" stroke-width="0.8"/><polygon points="738.5,389.5 768.5,372.5 775.5,376.5 745.5,393.5" fill="#8fcf9c" stroke="#1d2a38" stroke-width="1.1" stroke-linejoin="round" /><polygon points="745.5,393.5 775.5,376.5 775.5,390.5 745.5,407.5" fill="#5aa86a" stroke="#1d2a38" stroke-width="1.1" stroke-linejoin="round" /><polygon points="738.5,389.5 745.5,393.5 745.5,407.5 738.5,403.5" fill="#4c935b" stroke="#1d2a38" stroke-width="1.1" stroke-linejoin="round" /><circle cx="744.5" cy="388.0" r="1.5" fill="#c9e6cf" stroke="#2a3a30" stroke-width="0.6"/><circle cx="750.5" cy="384.6" r="1.5" fill="#c9e6cf" stroke="#2a3a30" stroke-width="0.6"/><circle cx="756.5" cy="381.2" r="1.5" fill="#c9e6cf" stroke="#2a3a30" stroke-width="0.6"/><circle cx="762.5" cy="377.8" r="1.5" fill="#c9e6cf" stroke="#2a3a30" stroke-width="0.6"/><circle cx="768.5" cy="374.4" r="1.5" fill="#c9e6cf" stroke="#2a3a30" stroke-width="0.6"/><path d="M748.5,397.5 v6" stroke="#2f5a3a" stroke-width="0.8"/><path d="M753.3,394.8 v6" stroke="#2f5a3a" stroke-width="0.8"/><path d="M758.1,392.1 v6" stroke="#2f5a3a" stroke-width="0.8"/><path d="M762.9,389.4 v6" stroke="#2f5a3a" stroke-width="0.8"/><path d="M767.7,386.7 v6" stroke="#2f5a3a" stroke-width="0.8"/><path d="M772.5,384.0 v6" stroke="#2f5a3a" stroke-width="0.8"/><path d="M697,396 L700,398 L754,367 L751,365" fill="none" stroke="#3a4550" stroke-width="0.9"/><path d="M702.0,395.0 v-5" stroke="#3a4550" stroke-width="0.9"/><circle cx="702.0" cy="396.5" r="1" fill="#3a4550"/><path d="M708.2,391.4 v-5" stroke="#3a4550" stroke-width="0.9"/><circle cx="708.2" cy="392.9" r="1" fill="#3a4550"/><path d="M714.4,387.8 v-5" stroke="#3a4550" stroke-width="0.9"/><circle cx="714.4" cy="389.3" r="1" fill="#3a4550"/><path d="M720.6,384.2 v-5" stroke="#3a4550" stroke-width="0.9"/><circle cx="720.6" cy="385.7" r="1" fill="#3a4550"/><path d="M726.8,380.6 v-5" stroke="#3a4550" stroke-width="0.9"/><circle cx="726.8" cy="382.1" r="1" fill="#3a4550"/><path d="M733.0,377.0 v-5" stroke="#3a4550" stroke-width="0.9"/><circle cx="733.0" cy="378.5" r="1" fill="#3a4550"/><path d="M739.2,373.4 v-5" stroke="#3a4550" stroke-width="0.9"/><circle cx="739.2" cy="374.9" r="1" fill="#3a4550"/><path d="M745.4,369.8 v-5" stroke="#3a4550" stroke-width="0.9"/><circle cx="745.4" cy="371.3" r="1" fill="#3a4550"/><path d="M751.6,366.2 v-5" stroke="#3a4550" stroke-width="0.9"/><circle cx="751.6" cy="367.7" r="1" fill="#3a4550"/><path d="M679.4,369.9 L693.6,377.3 M687,373.6 L697.5,366" stroke="#2c6f90" stroke-width="3" stroke-linecap="round"/><ellipse cx="679.4" cy="369.9" rx="3.3" ry="2.6" fill="#2c6f90"/><ellipse cx="693.6" cy="377.3" rx="3.3" ry="2.6" fill="#2c6f90"/><path d="M697.5,366 L719.3,354.4" stroke="#2c6f90" stroke-width="2.8"/><polygon points="725,351.4 720.9,358.3 717.0,350.9" fill="#2c6f90"/><path d="M697.5,366 L701.2,358.2" stroke="#2c6f90" stroke-width="2.6"/><polygon points="703.5,353.5 704.5,359.9 697.9,356.7" fill="#2c6f90"/><path d="M697.5,366 L714.3,364.9" stroke="#2c6f90" stroke-width="2.6"/><polygon points="719.5,364.6 714.4,368.6 713.9,361.3" fill="#2c6f90"/>
<g transform="translate(895,357) scale(1.0)"><use href="#horn"/></g>
<g transform="translate(935.5,366) scale(1.1)"><use href="#horn"/></g>
<g transform="translate(942,427) scale(1.0)"><use href="#horn"/></g>
<g transform="translate(899,462) scale(1.0)"><use href="#horn"/></g>
<g transform="translate(834.5,494.5) scale(1.0)"><use href="#horn"/></g>
<g transform="translate(765.5,517) scale(1.0)"><use href="#horn"/></g>
<g transform="translate(961,366) rotate(0)" fill="none" stroke="#e0a257" stroke-width="3.4" stroke-linecap="round"><path d="M0.0,-12.2 A13.9,13.9 0 0 1 0.0,12.2"/><path d="M6.0,-17.3 A20.4,20.4 0 0 1 6.0,17.3"/><path d="M13.4,-23.0 A28.5,28.5 0 0 1 13.4,23.0"/></g>
<g transform="translate(963.5,432) rotate(0)" fill="none" stroke="#e0a257" stroke-width="3.4" stroke-linecap="round"><path d="M0.0,-11.7 A13.3,13.3 0 0 1 0.0,11.7"/><path d="M5.8,-16.5 A19.5,19.5 0 0 1 5.8,16.5"/><path d="M12.8,-22.0 A27.3,27.3 0 0 1 12.8,22.0"/></g>
<g transform="translate(915,482.6) rotate(0)" fill="none" stroke="#e0a257" stroke-width="3.4" stroke-linecap="round"><path d="M0.0,-11.7 A13.3,13.3 0 0 1 0.0,11.7"/><path d="M5.8,-16.5 A19.5,19.5 0 0 1 5.8,16.5"/><path d="M12.8,-22.0 A27.3,27.3 0 0 1 12.8,22.0"/></g>
<g transform="translate(856,503.6) rotate(0)" fill="none" stroke="#e0a257" stroke-width="3.4" stroke-linecap="round"><path d="M0.0,-11.7 A13.3,13.3 0 0 1 0.0,11.7"/><path d="M5.8,-16.5 A19.5,19.5 0 0 1 5.8,16.5"/><path d="M12.8,-22.0 A27.3,27.3 0 0 1 12.8,22.0"/></g>
<g transform="translate(785,526.7) rotate(0)" fill="none" stroke="#e0a257" stroke-width="3.4" stroke-linecap="round"><path d="M0.0,-11.7 A13.3,13.3 0 0 1 0.0,11.7"/><path d="M5.8,-16.5 A19.5,19.5 0 0 1 5.8,16.5"/><path d="M12.8,-22.0 A27.3,27.3 0 0 1 12.8,22.0"/></g>
<text x="116.3" y="232.6" font-size="13" textLength="100.3" lengthAdjust="spacingAndGlyphs">Operator Console</text><text x="131.0" y="247.2" font-size="13" textLength="70.4" lengthAdjust="spacingAndGlyphs">(SIP Source)</text><text x="337.5" y="165.8" font-size="13" textLength="34.0" lengthAdjust="spacingAndGlyphs">Direct</text><text x="325.2" y="267.4" font-size="13" textLength="48.1" lengthAdjust="spacingAndGlyphs">Network</text><text x="541.9" y="267.4" font-size="13" textLength="47.7" lengthAdjust="spacingAndGlyphs">Network</text><text x="662.0" y="230.9" font-size="13" textLength="65.8" lengthAdjust="spacingAndGlyphs">Specialized</text><text x="667.8" y="245.4" font-size="13" textLength="60.5" lengthAdjust="spacingAndGlyphs">Gateway A</text><text x="389.7" y="379.6" font-size="13" textLength="93.6" lengthAdjust="spacingAndGlyphs">Edge Computing</text><text x="355.7" y="418.9" font-size="13" textLength="68.4" lengthAdjust="spacingAndGlyphs">Forwarder B</text><text x="589.8" y="369.3" font-size="13" textLength="37.0" lengthAdjust="spacingAndGlyphs">Hybrid</text><text x="544.8" y="384.9" font-size="13" textLength="82.0" lengthAdjust="spacingAndGlyphs">Modernization</text><text x="618.3" y="430.8" font-size="13" textLength="59.9" lengthAdjust="spacingAndGlyphs">Multi-zone</text><text x="587.3" y="446.4" font-size="13" textLength="90.9" lengthAdjust="spacingAndGlyphs">Analog Gateway</text><text x="68.0" y="508.3" font-size="13" textLength="60.9" lengthAdjust="spacingAndGlyphs">IP Desktop</text><text x="60.5" y="523.6" font-size="13" textLength="70.9" lengthAdjust="spacingAndGlyphs">Paging Phon</text>
</svg></body></html>
